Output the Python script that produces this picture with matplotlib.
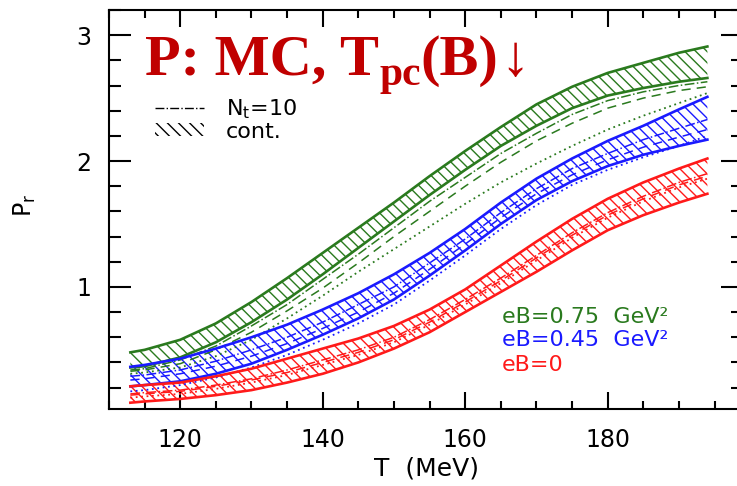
import matplotlib
matplotlib.use("Agg")
import matplotlib.pyplot as plt
from matplotlib.lines import Line2D
from matplotlib.patches import Patch
from matplotlib.ticker import MultipleLocator

# temperatures (MeV)
T = [113, 115, 120, 125, 130, 135, 140, 145, 150, 155, 160, 165, 170, 175, 180, 185, 190, 194]

# eB = 0.75 GeV^2 (green)
g_up = [0.48, 0.50, 0.58, 0.71, 0.88, 1.07, 1.27, 1.47, 1.67, 1.88, 2.08, 2.27, 2.45, 2.59, 2.70, 2.78, 2.86, 2.91]
g_lo = [0.36, 0.37, 0.44, 0.56, 0.72, 0.90, 1.10, 1.31, 1.52, 1.73, 1.93, 2.12, 2.28, 2.42, 2.52, 2.58, 2.63, 2.66]
g_nt10 = [0.34, 0.35, 0.42, 0.53, 0.69, 0.86, 1.06, 1.26, 1.47, 1.68, 1.87, 2.06, 2.22, 2.37, 2.48, 2.55, 2.60, 2.63]
g_nt8 = [0.33, 0.34, 0.39, 0.50, 0.64, 0.81, 0.99, 1.19, 1.40, 1.60, 1.80, 1.99, 2.16, 2.30, 2.42, 2.50, 2.56, 2.59]
g_nt6 = [0.31, 0.32, 0.36, 0.45, 0.58, 0.75, 0.93, 1.12, 1.30, 1.48, 1.66, 1.83, 1.98, 2.12, 2.25, 2.36, 2.46, 2.54]

# eB = 0.45 GeV^2 (blue)
b_up = [0.365, 0.38, 0.43, 0.51, 0.60, 0.70, 0.82, 0.95, 1.10, 1.27, 1.46, 1.67, 1.86, 2.02, 2.16, 2.28, 2.41, 2.51]
b_lo = [0.21, 0.22, 0.25, 0.31, 0.39, 0.50, 0.62, 0.75, 0.90, 1.09, 1.29, 1.50, 1.69, 1.84, 1.96, 2.05, 2.12, 2.17]
b_nt10 = [0.29, 0.30, 0.34, 0.41, 0.50, 0.60, 0.72, 0.86, 1.00, 1.19, 1.38, 1.59, 1.78, 1.94, 2.06, 2.17, 2.26, 2.33]
b_nt8 = [0.26, 0.27, 0.31, 0.37, 0.45, 0.55, 0.67, 0.80, 0.95, 1.14, 1.34, 1.55, 1.74, 1.89, 2.01, 2.11, 2.19, 2.25]
b_nt6 = [0.17, 0.18, 0.22, 0.28, 0.36, 0.46, 0.58, 0.71, 0.86, 1.05, 1.25, 1.46, 1.65, 1.81, 1.93, 2.03, 2.12, 2.20]

# eB = 0 (red)
r_up = [0.21, 0.22, 0.24, 0.29, 0.35, 0.43, 0.51, 0.59, 0.69, 0.82, 0.98, 1.17, 1.36, 1.54, 1.70, 1.83, 1.94, 2.02]
r_lo = [0.08, 0.09, 0.11, 0.14, 0.18, 0.24, 0.31, 0.40, 0.51, 0.64, 0.80, 0.96, 1.12, 1.29, 1.45, 1.57, 1.67, 1.74]
r_nt10 = [0.15, 0.16, 0.18, 0.22, 0.27, 0.34, 0.42, 0.50, 0.60, 0.74, 0.90, 1.07, 1.25, 1.43, 1.59, 1.72, 1.83, 1.90]
r_nt8 = [0.14, 0.15, 0.17, 0.21, 0.26, 0.32, 0.40, 0.48, 0.58, 0.72, 0.88, 1.05, 1.23, 1.41, 1.57, 1.70, 1.81, 1.88]
r_nt6 = [0.12, 0.13, 0.15, 0.19, 0.24, 0.30, 0.38, 0.46, 0.56, 0.70, 0.86, 1.03, 1.21, 1.39, 1.55, 1.68, 1.79, 1.86]

labels = ['eB=0.75  GeV²', 'eB=0.45  GeV²', 'eB=0']
colors = ['#2a7a1e', '#1a1aff', '#ff1a1a']
title_color = '#c00000'

plt.rcParams['hatch.linewidth'] = 1.0

W, H = 737, 486
fig = plt.figure(figsize=(W / 100, H / 100), dpi=100)
ax = fig.add_axes([109 / W, 1 - 409 / H, 634 / W, 399 / H])

sets = [
    (g_up, g_lo, g_nt10, g_nt8, g_nt6),
    (b_up, b_lo, b_nt10, b_nt8, b_nt6),
    (r_up, r_lo, r_nt10, r_nt8, r_nt6),
]
for (up, lo, n10, n8, n6), c in zip(sets, colors):
    ax.fill_between(T, lo, up, facecolor='none', edgecolor=c, hatch='\\\\\\', linewidth=0)
    ax.plot(T, up, color=c, lw=1.9)
    ax.plot(T, lo, color=c, lw=1.9)
    ax.plot(T, n10, color=c, lw=1.1, ls='-.')
    ax.plot(T, n8, color=c, lw=1.1, ls=(0, (6, 4)))
    ax.plot(T, n6, color=c, lw=1.3, ls=(0, (1, 2)))

ax.set_xlim(110, 199)
ax.set_ylim(0.03, 3.2)
ax.xaxis.set_major_locator(MultipleLocator(20))
ax.xaxis.set_minor_locator(MultipleLocator(5))
ax.yaxis.set_major_locator(MultipleLocator(1))
ax.yaxis.set_minor_locator(MultipleLocator(0.2))
ax.tick_params(which='both', direction='in', top=True, right=True, width=1.5, labelsize=17)
ax.tick_params(axis='x', which='major', length=12, pad=14)
ax.tick_params(axis='x', which='minor', length=6)
ax.tick_params(axis='y', which='major', length=16, pad=13)
ax.tick_params(axis='y', which='minor', length=8.5)
for s in ax.spines.values():
    s.set_linewidth(1.5)

ax.set_xlabel('T  (MeV)', fontsize=18)
ax.xaxis.set_label_coords(0.5, -0.12)
ax.set_ylabel(r'P$_\mathrm{r}$', fontsize=17)
ax.yaxis.set_label_coords(-0.112, 0.51)

# title built from pieces so the subscript sits right
fig.canvas.draw()
r = fig.canvas.get_renderer()
tkw = dict(color=title_color, family='Liberation Serif', va='baseline', ha='left')
x0, y0 = 145, H - 75
t1 = fig.text(x0 / W, y0 / H, 'P: MC, T', fontsize=42, weight='bold', **tkw)
x1 = t1.get_window_extent(r).x1
t2 = fig.text(x1 / W, (y0 - 10) / H, 'pc', fontsize=30, weight='bold', **tkw)
x2 = t2.get_window_extent(r).x1
t3 = fig.text(x2 / W, y0 / H, '(B)', fontsize=42, weight='bold', **tkw)
x3 = t3.get_window_extent(r).x1
fig.text((x3 + 2) / W, y0 / H, '↓', fontsize=42, **tkw)

handles = [Line2D([], [], color='k', lw=1.0, ls='-.'),
           Patch(facecolor='none', edgecolor='k', hatch='\\\\\\', linewidth=0)]
ax.legend(handles, [r'N$_\mathrm{t}$=10', 'cont.'], loc='upper left', bbox_to_anchor=(0.055, 0.81),
          frameon=False, fontsize=16, handlelength=2.2, handleheight=0.55, labelspacing=0.05,
          handletextpad=1.0, borderpad=0)

ys = [317, 340, 365]
for lab, c, y in zip(labels, colors, ys):
    fig.text(502 / W, 1 - y / H, lab, color=c, fontsize=16, va='center', ha='left')

fig.savefig('out.png', dpi=100)
